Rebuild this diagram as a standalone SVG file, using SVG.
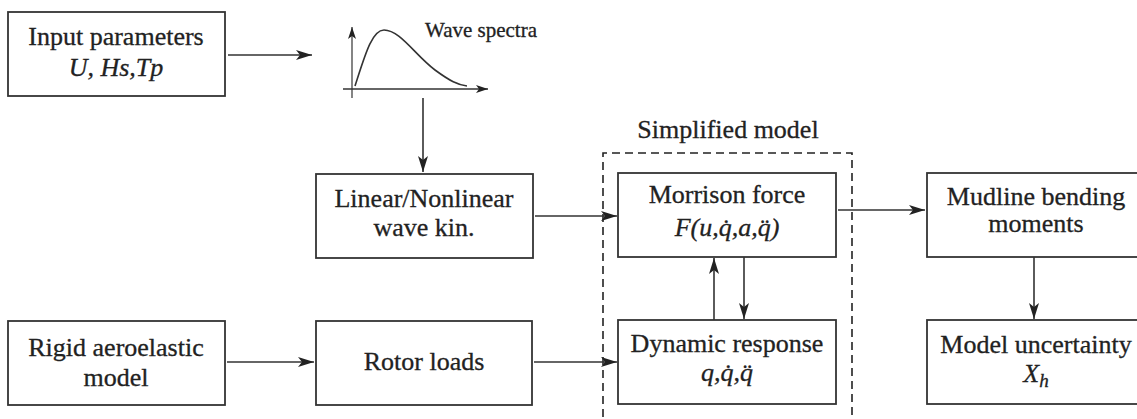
<svg xmlns="http://www.w3.org/2000/svg" width="1137" height="419" viewBox="0 0 1137 419">
<style>
.box{fill:#fff;stroke:#333;stroke-width:1.8}
.t{font-family:'Liberation Serif','Times New Roman',serif;font-size:26px;fill:#222;stroke:#222;stroke-width:0.3;text-anchor:middle}
.i{font-style:italic}
.ln{fill:none;stroke:#333;stroke-width:1.6}
.ax{fill:none;stroke:#666;stroke-width:1.6}
.dash{fill:none;stroke:#222;stroke-width:1.6;stroke-dasharray:8,5}
</style>
<defs>
<marker id="ah" viewBox="0 0 16 10" refX="16" refY="5" markerWidth="16" markerHeight="10" markerUnits="userSpaceOnUse" orient="auto">
<path d="M0,0 L16,5 L0,10 L4,5 Z" fill="#222"/>
</marker>
<marker id="ahs" viewBox="0 0 12 8" refX="12" refY="4" markerWidth="12" markerHeight="8" markerUnits="userSpaceOnUse" orient="auto">
<path d="M0,0 L12,4 L0,8 L3,4 Z" fill="#222"/>
</marker>
</defs>
<g id="simplified-model">
<path class="dash" d="M603,430 V153 H852 V430"/>
<text class="t" x="728" y="138">Simplified model</text>
</g>
<g id="input">
<rect class="box" x="8" y="12" width="217" height="84"/>
<text class="t" x="116" y="45">Input parameters</text>
<text class="t i" x="116" y="76">U, Hs,Tp</text>
</g>
<g id="spectra">
<path class="ax" d="M352,98 V27" marker-end="url(#ahs)"/>
<path class="ln" d="M343,89 H488" marker-end="url(#ahs)"/>
<path class="ln" d="M355,86 C365,55 372,30 384,30 C400,30 415,55 435,70 C450,81 458,85 467,86"/>
<text class="t" x="425" y="37" style="font-size:21px;text-anchor:start">Wave spectra</text>
</g>
<g id="linear">
<rect class="box" x="316" y="174" width="217" height="84"/>
<text class="t" x="424" y="207">Linear/Nonlinear</text>
<text class="t" x="424" y="236">wave kin.</text>
</g>
<g id="morrison">
<rect class="box" x="618" y="173" width="218" height="84"/>
<text class="t" x="727" y="203">Morrison force</text>
<text class="t i" x="727" y="236">F(u,q̇,a,q̈)</text>
</g>
<g id="mudline">
<rect class="box" x="927" y="173" width="220" height="84"/>
<text class="t" x="1036" y="205">Mudline bending</text>
<text class="t" x="1036" y="232">moments</text>
</g>
<g id="rigid">
<rect class="box" x="8" y="321" width="217" height="84"/>
<text class="t" x="116" y="356">Rigid aeroelastic</text>
<text class="t" x="116" y="386">model</text>
</g>
<g id="rotor">
<rect class="box" x="316" y="321" width="216" height="84"/>
<text class="t" x="424" y="370">Rotor loads</text>
</g>
<g id="dynamic">
<rect class="box" x="618" y="320" width="218" height="84"/>
<text class="t" x="727" y="352">Dynamic response</text>
<text class="t i" x="727" y="381">q,q̇,q̈</text>
</g>
<g id="uncertainty">
<rect class="box" x="927" y="320" width="220" height="84"/>
<text class="t" x="1036" y="353">Model uncertainty</text>
<text class="t i" x="1036" y="382">X<tspan dy="5" style="font-size:19px">h</tspan></text>
</g>
<g id="connectors">
<path class="ln" d="M228,55 H312" marker-end="url(#ah)"/>
<path class="ln" d="M423,98 V172" marker-end="url(#ah)"/>
<path class="ln" d="M535,216 H617" marker-end="url(#ah)"/>
<path class="ln" d="M838,210 H925" marker-end="url(#ah)"/>
<path class="ln" d="M227,362 H314" marker-end="url(#ah)"/>
<path class="ln" d="M534,362 H617" marker-end="url(#ah)"/>
<path class="ln" d="M714,320 V258" marker-end="url(#ah)"/>
<path class="ln" d="M744,257 V319" marker-end="url(#ah)"/>
<path class="ln" d="M1034,257 V319" marker-end="url(#ah)"/>
</g>
</svg>
